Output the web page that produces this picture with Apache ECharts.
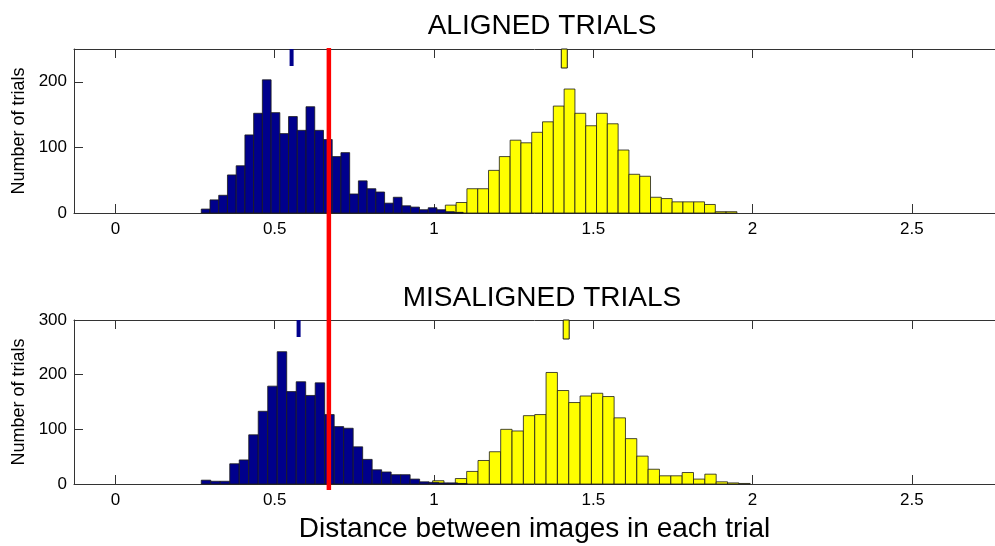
<!DOCTYPE html>
<html>
<head>
<meta charset="utf-8">
<script src="https://cdn.jsdelivr.net/npm/echarts@6/dist/echarts.min.js"></script>
<style>html,body{margin:0;padding:0;background:#fff;}#c{width:995px;height:546px;}</style>
</head>
<body>
<div id="c"></div>
<script>
// ---------- data ----------
const xTickValues = [0, 0.5, 1, 1.5, 2, 2.5];
const topYTicks = [0, 100, 200];
const botYTicks = [0, 100, 200, 300];

// ALIGNED TRIALS
const alignedBlueStart = 0.2695, alignedBlueWidth = 0.0274;
const alignedBlueCounts = [6, 20, 27, 58, 72, 119, 152, 203, 153, 121, 147, 126, 162, 126, 112, 86, 92, 29, 49, 37, 32, 15, 24, 11, 9, 5, 8, 5, 2, 1];
const alignedYellowStart = 1.0356, alignedYellowWidth = 0.0339;
const alignedYellowCounts = [12, 16, 37, 37, 65, 86, 111, 107, 123, 139, 163, 189, 152, 133, 152, 136, 96, 59, 56, 24, 22, 17, 17, 17, 13, 2, 2];
const alignedBlueMean = 0.553, alignedYellowMean = 1.409;

// MISALIGNED TRIALS
const misBlueStart = 0.2695, misBlueWidth = 0.0298;
const misBlueCounts = [7, 5, 5, 37, 44, 90, 133, 179, 242, 169, 187, 162, 185, 127, 105, 102, 68, 45, 26, 22, 17, 17, 9, 4, 3, 2, 2, 1];
const misYellowStart = 0.9958, misYellowWidth = 0.0356;
const misYellowCounts = [6, 1, 10, 23, 43, 59, 100, 97, 125, 127, 204, 171, 149, 161, 166, 160, 121, 83, 51, 27, 15, 15, 21, 9, 18, 4, 2, 1];
const misBlueMean = 0.575, misYellowMean = 1.415;

const thresholdX = 0.67;
const xMin = -0.13, xMax = 2.761;
const topYMax = 250, botYMax = 300;

// ---------- chart ----------
const FONT = "'Liberation Sans', Arial, sans-serif";
const BLUE = '#00008c', YELLOW = '#ffff00', EDGE = '#1a1a1a', AXIS = '#333';
const gridLeft = 74, gridRight = 0;

function bins(start, width, counts) {
  return counts.map((c, i) => [start + i * width, start + (i + 1) * width, c]);
}
function histSeries(data, fill, xi, yi, z) {
  return {
    type: 'custom', xAxisIndex: xi, yAxisIndex: yi, z: z, silent: true, clip: false,
    data: data,
    renderItem: function (params, api) {
      const p0 = api.coord([api.value(0), api.value(2)]);
      const p1 = api.coord([api.value(1), 0]);
      return { type: 'rect', shape: { x: p0[0], y: p0[1], width: p1[0] - p0[0], height: p1[1] - p0[1] },
        style: { fill: fill, stroke: EDGE, lineWidth: 0.8 } };
    }
  };
}
function markerSeries(data, xi, yi) {
  return {
    type: 'custom', xAxisIndex: xi, yAxisIndex: yi, z: 5, silent: true,
    data: data,
    renderItem: function (params, api) {
      const p = api.coord([api.value(0), api.value(1)]);
      const isYellow = api.value(2) === 1;
      const w = isYellow ? 6 : 4, h = isYellow ? 19 : 17;
      return { type: 'rect', shape: { x: p[0] - w / 2, y: p[1], width: w, height: h },
        style: { fill: isYellow ? YELLOW : BLUE, stroke: isYellow ? EDGE : BLUE, lineWidth: isYellow ? 1 : 0 } };
    }
  };
}
function xAxisCfg(gi, pos, labels, name) {
  return {
    type: 'value', gridIndex: gi, position: pos, min: xMin, max: xMax,
    axisLine: { show: true, onZero: false, lineStyle: { color: AXIS, width: 1 } },
    axisTick: { show: true, inside: true, length: 9, customValues: xTickValues, lineStyle: { color: AXIS } },
    axisLabel: { show: labels, customValues: xTickValues, margin: 8, color: '#000', fontSize: 17, fontFamily: FONT },
    splitLine: { show: false },
    name: name || '', nameLocation: 'middle', nameGap: 31,
    nameTextStyle: { color: '#000', fontSize: 28, fontFamily: FONT }
  };
}
function yAxisCfg(gi, pos, labels, max, ticks) {
  return {
    type: 'value', gridIndex: gi, position: pos, min: 0, max: max,
    axisLine: { show: labels, onZero: false, lineStyle: { color: AXIS, width: 1 } },
    axisTick: { show: labels, inside: true, length: 9, customValues: ticks, lineStyle: { color: AXIS } },
    axisLabel: { show: labels, customValues: ticks, margin: 7, color: '#000', fontSize: 17, fontFamily: FONT },
    splitLine: { show: false },
    name: labels ? 'Number of trials' : '', nameLocation: 'middle', nameGap: 46,
    nameTextStyle: { color: '#000', fontSize: 18, fontFamily: FONT }
  };
}

const chart = echarts.init(document.getElementById('c'), null, { renderer: 'canvas' });
chart.setOption({
  animation: false,
  backgroundColor: '#fff',
  title: [
    { text: 'ALIGNED TRIALS', left: 537, textAlign: 'center', top: 7,
      textStyle: { color: '#000', fontSize: 28, fontWeight: 'normal', fontFamily: FONT } },
    { text: 'MISALIGNED TRIALS', left: 537, textAlign: 'center', top: 279,
      textStyle: { color: '#000', fontSize: 28, fontWeight: 'normal', fontFamily: FONT } }
  ],
  grid: [
    { left: gridLeft, top: 49, right: gridRight, height: 164 },
    { left: gridLeft, top: 320, right: gridRight, height: 164 },
    { left: gridLeft, top: 48, right: gridRight, height: 442 }
  ],
  xAxis: [
    xAxisCfg(0, 'bottom', true),
    xAxisCfg(0, 'top', false),
    xAxisCfg(1, 'bottom', true, 'Distance between images in each trial'),
    xAxisCfg(1, 'top', false),
    { type: 'value', gridIndex: 2, min: xMin, max: xMax, show: false }
  ],
  yAxis: [
    yAxisCfg(0, 'left', true, topYMax, topYTicks),
    yAxisCfg(0, 'right', false, topYMax, topYTicks),
    yAxisCfg(1, 'left', true, botYMax, botYTicks),
    yAxisCfg(1, 'right', false, botYMax, botYTicks),
    { type: 'value', gridIndex: 2, min: 0, max: 1, show: false }
  ],
  series: [
    histSeries(bins(alignedYellowStart, alignedYellowWidth, alignedYellowCounts), YELLOW, 0, 0, 2),
    histSeries(bins(alignedBlueStart, alignedBlueWidth, alignedBlueCounts), BLUE, 0, 0, 3),
    markerSeries([[alignedBlueMean, topYMax, 0], [alignedYellowMean, topYMax, 1]], 0, 0),
    histSeries(bins(misYellowStart, misYellowWidth, misYellowCounts), YELLOW, 2, 2, 2),
    histSeries(bins(misBlueStart, misBlueWidth, misBlueCounts), BLUE, 2, 2, 3),
    markerSeries([[misBlueMean, botYMax, 0], [misYellowMean, botYMax, 1]], 2, 2),
    {
      type: 'line', xAxisIndex: 4, yAxisIndex: 4, z: 10, silent: true, symbol: 'none',
      data: [[thresholdX, 0], [thresholdX, 1]],
      lineStyle: { color: '#ff0000', width: 4.5 }
    }
  ]
});
</script>
</body>
</html>
